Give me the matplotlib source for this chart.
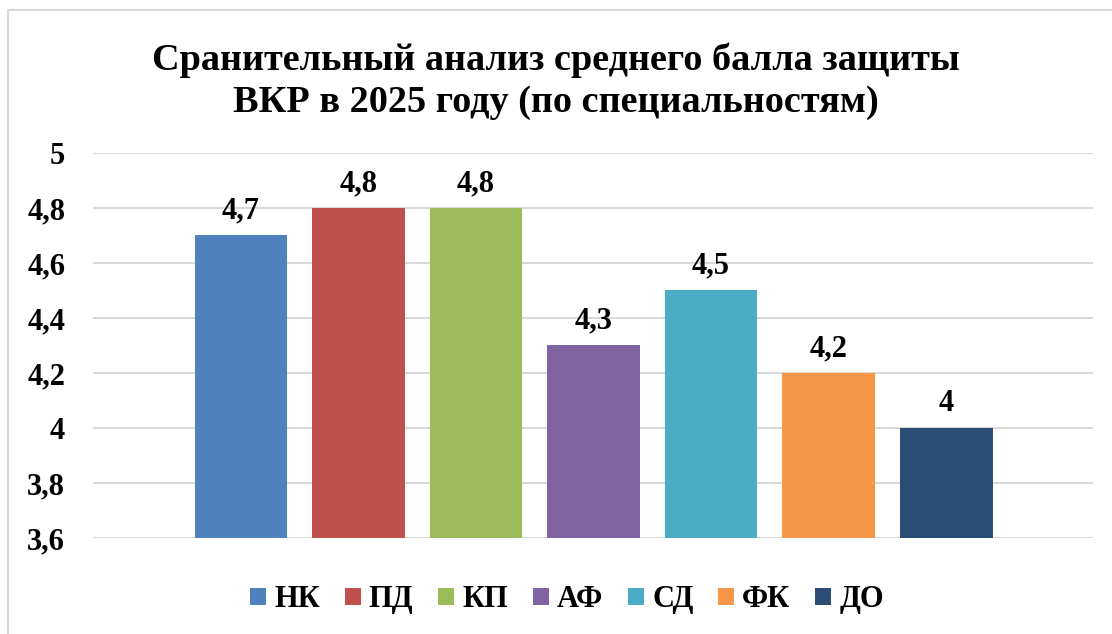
import matplotlib.pyplot as plt
from matplotlib.patches import Rectangle
from matplotlib.ticker import FuncFormatter

plt.rcParams['font.family'] = ['Liberation Serif', 'DejaVu Serif']
plt.rcParams['font.weight'] = 'bold'

# data
labels = ['НК', 'ПД', 'КП', 'АФ', 'СД', 'ФК', 'ДО']
values = [4.7, 4.8, 4.8, 4.3, 4.5, 4.2, 4.0]
colors = ['#4F81BD', '#C0504D', '#9BBB59', '#8064A2', '#4BACC6', '#F79646', '#2C4D75']
title = 'Сранительный анализ среднего балла защиты\nВКР в 2025 году (по специальностям)'

fig = plt.figure(figsize=(11.12, 6.34), dpi=100)
ax = fig.add_axes([0.0836, 0.1514, 0.8993, 0.6073])

# light frame like the excel chart area (only top/left visible)
fig.patches.append(Rectangle((8/1112, -0.05), 1.2, 1 - 10/634 + 0.05, transform=fig.transFigure,
                             fill=False, edgecolor='#D9D9D9', linewidth=1.5))

bars = []
for i, (lab, v, c) in enumerate(zip(labels, values, colors)):
    b = ax.bar(i, v - 3.6, bottom=3.6, width=0.79, color=c, label=lab, zorder=3)
    bars.append(b)
    ax.text(i, v + 0.035, f'{v:g}'.replace('.', ','), ha='center', va='bottom',
            fontsize=22, fontweight='bold')

ax.set_ylim(3.6, 5.0)
ax.set_xlim(-1.26, 7.25)
ax.set_yticks([3.6, 3.8, 4.0, 4.2, 4.4, 4.6, 4.8, 5.0])
ax.yaxis.set_major_formatter(FuncFormatter(lambda y, p: f'{y:g}'.replace('.', ',')))
ax.tick_params(axis='y', length=0, pad=20, labelsize=22)
ax.set_xticks([])
ax.grid(axis='y', color='#D9D9D9', linewidth=1.5, zorder=0)
for s in ax.spines.values():
    s.set_visible(False)

fig.text(0.5, 0.872, title, ha='center', va='center', fontsize=27.5, fontweight='bold',
         linespacing=1.27)

fig.legend(handles=bars, labels=labels, loc='center', bbox_to_anchor=(0.51, 0.054), ncol=7,
           frameon=False, fontsize=22, handlelength=0.52, handleheight=0.52,
           handletextpad=0.26, columnspacing=0.82)

fig.savefig('out.png', dpi=100)
